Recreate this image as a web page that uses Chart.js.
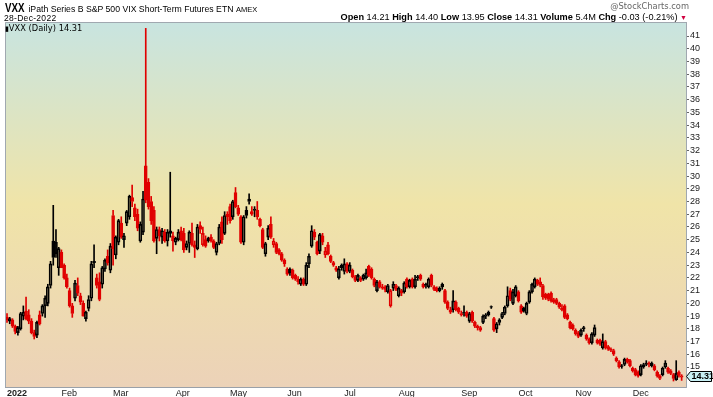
<!DOCTYPE html>
<html>
<head>
<meta charset="utf-8">
<script src="https://cdn.jsdelivr.net/npm/chart.js@4.4.1/dist/chart.umd.min.js"></script>
<style>
  body { margin: 0; background: #fff; font-family: "Liberation Sans", Arial, sans-serif; }
  #wrap { position: relative; width: 713px; height: 397px; overflow: hidden; }
  #c { position: absolute; left: 0; top: 0; }
  .t { position: absolute; white-space: nowrap; color: #000; line-height: 1; }
  .vxx { display: inline-block; transform: scaleX(0.78); transform-origin: left; font-size: 12.5px; font-weight: bold; margin-right: -4px; }
</style>
</head>
<body>
<div id="wrap">
  <canvas id="c" width="713" height="397"></canvas>
  <div class="t" style="left:5px;top:2px;font-size:8.7px;"><span class="vxx">VXX</span> iPath Series B S&amp;P 500 VIX Short-Term Futures ETN <span style="font-size:7.5px">AMEX</span></div>
  <div class="t" style="right:24px;top:2px;font-size:8.3px;color:#666;font-family:'DejaVu Sans',sans-serif;">@StockCharts.com</div>
  <div class="t" style="left:4px;top:14px;font-size:8.5px;letter-spacing:0.3px;">28-Dec-2022</div>
  <div class="t" style="right:26px;top:13px;font-size:9.2px;"><b>Open</b> 14.21 <b>High</b> 14.40 <b>Low</b> 13.95 <b>Close</b> 14.31 <b>Volume</b> 5.4M <b>Chg</b> -0.03 (-0.21%) <span style="color:#d00040;font-size:7px">&#9660;</span></div>
  <div class="t" style="left:5px;top:24px;font-size:8.3px;font-family:'DejaVu Sans',sans-serif;"><span style="font-size:7px">&#9646;</span>VXX (Daily) 14.31</div>
</div>
<script>
// VXX daily candles, 2022
const monthNames = ['2022', 'Feb', 'Mar', 'Apr', 'May', 'Jun', 'Jul', 'Aug', 'Sep', 'Oct', 'Nov', 'Dec'];
const monthDays  = [20, 19, 23, 20, 21, 21, 20, 23, 21, 21, 21, 19];

const opens = [
  18.9,18.6,18.7,18.2,17.7,18.0,19.0,19.4,19.1,18.6,17.7,17.5,19.1,19.2,19.8,20.0,21.4,24.9,24.8,22.8,
  24.0,23.0,22.0,21.0,19.8,20.4,21.4,20.6,20.0,18.8,19.6,20.4,23.2,22.0,21.7,21.5,22.7,23.7,22.6,
  26.9,23.8,24.8,26.3,25.0,26.3,26.8,28.3,27.5,27.0,24.9,25.6,30.8,29.5,28.0,27.3,25.1,25.8,25.2,25.6,24.9,25.5,25.3,
  24.8,25.0,25.7,25.5,24.4,24.7,25.5,24.6,24.3,26.1,24.6,25.0,24.9,25.2,24.9,24.0,24.7,26.4,25.5,27.0,
  27.6,26.8,28.7,27.5,26.8,24.8,27.3,28.0,27.0,27.3,27.3,26.6,25.8,23.9,25.2,26.2,24.6,24.7,24.2,23.9,23.4,
  22.7,22.7,22.6,22.2,21.9,21.5,21.9,21.5,23.1,24.5,25.6,24.8,24.1,25.3,23.8,24.6,23.7,23.2,22.8,22.0,22.8,
  22.5,23.1,22.5,22.6,22.1,21.8,22.0,21.9,22.0,22.9,22.7,21.9,21.0,21.7,21.3,21.3,20.9,19.8,21.2,21.4,
  20.6,21.0,20.9,21.9,21.3,21.9,21.3,22.0,22.2,21.5,21.5,21.3,22.2,21.3,21.2,21.0,21.5,21.0,20.1,19.3,19.5,20.1,19.6,
  19.1,19.2,19.3,18.6,19.3,18.5,18.2,18.1,18.5,19.0,19.1,19.7,18.8,18.0,18.5,18.9,19.2,19.8,21.0,20.0,20.6,
  20.9,19.8,19.6,19.2,20.1,20.9,21.3,21.8,21.7,21.4,20.7,20.7,20.8,20.3,20.3,20.0,19.5,19.8,19.1,18.5,18.3,
  17.9,17.7,17.5,18.1,17.5,17.2,16.9,17.5,17.1,17.1,16.5,17.0,16.6,16.4,16.3,15.7,15.4,15.1,15.2,15.6,15.5,
  14.9,14.8,14.6,14.4,15.0,15.2,15.3,15.1,15.1,14.6,14.3,14.4,15.0,14.9,14.7,14.4,14.0,14.6,14.21
];
const highs = [
  19.2,18.9,18.8,18.3,18.2,19.3,19.8,20.5,19.5,18.8,17.9,18.6,19.4,19.9,20.6,21.5,23.3,27.7,25.8,24.4,
  24.2,23.1,22.3,21.2,20.0,21.8,22.0,20.8,20.2,19.4,20.6,23.3,24.6,22.3,22.4,22.9,23.5,24.2,24.7,
  27.3,25.3,26.6,26.8,25.5,27.3,28.5,29.3,27.8,27.4,26.4,28.8,41.6,29.8,28.4,27.6,26.0,26.0,25.9,25.8,25.8,30.3,25.6,
  25.2,25.8,26.0,25.9,24.9,25.7,26.3,24.9,26.2,26.4,26.0,25.3,25.2,25.4,25.0,24.8,26.2,26.8,27.2,27.2,
  27.8,28.1,29.1,27.7,26.9,26.9,27.6,28.6,27.6,27.6,28.0,26.7,25.9,24.8,26.1,26.8,25.1,24.8,24.3,24.0,23.5,
  22.8,22.8,22.7,22.3,22.1,22.0,22.0,23.2,23.9,26.1,25.8,24.9,25.5,25.5,24.4,24.8,23.8,23.3,22.9,22.9,23.1,
  23.5,23.2,23.2,22.7,22.2,22.3,22.1,22.3,22.7,23.0,22.8,22.0,21.8,21.8,21.5,21.4,21.5,21.1,21.7,21.5,
  21.3,21.1,21.7,22.0,21.9,22.0,22.2,22.2,22.3,21.6,21.6,22.0,22.3,21.4,21.3,21.3,21.6,21.1,20.2,19.7,21.0,20.2,19.7,
  19.4,19.8,19.4,19.3,19.4,18.6,18.3,18.2,19.1,19.2,19.4,19.8,18.9,18.5,18.8,19.3,19.8,21.3,21.2,21.1,21.4,
  21.0,19.9,19.7,20.1,21.0,21.6,22.0,21.9,22.0,21.5,20.8,20.8,20.9,20.4,20.4,20.1,19.9,19.9,19.2,18.6,18.4,
  18.0,17.8,18.0,18.2,17.6,17.3,17.7,18.3,17.2,17.2,17.6,17.1,16.7,16.5,16.4,15.8,15.5,15.2,15.7,15.7,15.6,
  15.0,14.9,14.7,15.2,15.3,15.5,15.4,15.4,15.2,14.7,14.4,15.0,15.5,15.0,14.8,14.5,15.5,14.7,14.40
];
const lows = [
  18.5,18.4,18.1,17.6,17.5,17.9,18.7,18.7,18.4,17.6,17.2,17.3,18.3,19.0,18.9,19.8,21.2,23.0,23.6,22.2,
  22.8,21.9,21.2,19.7,18.9,20.2,20.6,19.9,19.1,18.6,19.4,20.2,22.8,21.2,20.2,21.2,22.5,23.0,22.4,
  23.0,23.5,24.6,25.1,24.4,26.1,26.6,27.6,26.5,25.7,24.8,25.4,27.9,27.4,26.2,24.8,23.9,24.9,24.7,24.8,24.5,25.2,24.1,
  24.6,24.9,24.9,24.0,24.2,24.0,24.5,23.6,24.2,25.5,24.5,24.4,24.8,24.8,24.3,23.8,24.6,24.7,25.4,26.2,
  26.3,26.6,27.5,26.9,24.7,24.6,26.7,27.8,26.9,26.8,26.6,26.0,24.3,23.7,25.0,25.1,24.4,23.9,23.8,23.3,22.9,
  22.2,22.2,21.9,21.8,21.5,21.4,21.4,21.4,22.8,24.4,25.0,23.8,23.9,24.6,23.6,23.8,23.2,22.9,22.5,21.9,22.6,
  22.3,22.4,22.4,22.0,21.7,21.7,21.7,21.8,21.9,22.1,21.9,21.3,20.9,21.2,21.1,20.9,20.8,19.7,21.0,21.0,
  20.5,20.6,20.8,21.2,21.2,21.2,21.2,21.8,21.8,21.2,21.2,21.2,21.3,21.0,20.9,20.9,21.1,20.0,19.5,19.2,19.3,19.4,19.2,
  19.0,19.0,18.9,18.5,18.5,18.1,17.9,17.8,18.4,18.8,19.0,19.6,17.8,17.7,18.3,18.8,19.1,19.7,20.2,19.9,20.5,
  20.1,19.2,19.3,19.1,20.0,20.8,21.2,21.4,21.3,20.3,20.3,20.2,20.1,20.0,19.9,19.6,19.4,18.8,18.7,18.0,17.9,
  17.5,17.3,17.4,17.8,17.1,16.8,16.8,17.4,16.8,16.7,16.4,16.4,16.3,16.2,15.9,15.4,14.9,14.9,15.1,15.3,15.0,
  14.6,14.3,14.2,14.3,14.9,15.1,15.0,15.0,14.7,14.2,14.0,14.3,14.9,14.5,14.4,13.9,13.95,14.2,13.95
];
const closes = [
  18.7,18.8,18.2,17.8,18.1,19.2,19.3,18.8,18.6,17.7,17.4,18.5,18.4,19.8,20.4,21.3,23.1,23.6,23.9,24.3,
  22.8,22.0,21.3,19.8,19.2,21.6,20.8,20.1,19.0,19.3,20.3,23.1,23.3,21.4,20.3,22.8,23.4,23.2,24.5,
  24.3,25.2,26.5,25.2,25.3,27.2,28.4,28.0,26.8,25.9,26.2,28.2,28.1,27.6,26.5,24.9,25.8,25.3,25.7,24.9,25.6,25.7,24.9,
  25.1,25.6,25.0,24.2,24.7,25.6,24.6,24.4,26.0,25.8,25.5,24.5,25.1,24.9,24.4,24.7,26.0,25.0,26.9,26.8,
  26.5,28.0,27.6,27.0,24.8,26.8,26.9,28.2,27.2,27.4,26.8,26.1,24.4,24.7,25.9,25.2,24.9,24.0,23.9,23.4,23.1,
  22.3,22.4,22.0,21.9,21.7,21.9,21.5,23.0,23.7,25.7,25.2,23.9,25.4,24.8,24.1,23.9,23.3,23.0,22.6,22.7,23.0,
  23.1,22.5,23.0,22.1,21.8,22.2,21.8,22.2,22.4,22.2,22.0,21.4,21.7,21.3,21.2,21.1,21.4,21.0,21.5,21.1,
  21.2,20.8,21.6,21.3,21.8,21.3,21.9,22.1,21.9,21.3,21.4,21.9,21.4,21.1,21.0,21.2,21.3,20.1,19.6,19.5,20.2,19.5,19.3,
  19.2,19.3,19.0,19.2,18.6,18.2,18.1,17.9,19.0,19.1,19.3,19.75,17.9,18.4,18.7,19.2,19.7,20.6,20.3,20.9,21.3,
  20.2,19.3,19.4,20.0,20.9,21.5,21.9,21.5,21.4,20.5,20.4,20.3,20.2,20.1,20.0,19.7,19.6,18.9,18.8,18.1,18.0,
  17.6,17.4,17.9,18.0,17.2,16.9,17.6,18.1,16.9,16.8,17.0,16.5,16.4,16.3,16.0,15.5,15.0,15.05,15.6,15.4,15.1,
  14.7,14.4,14.3,15.1,15.2,15.3,15.2,15.3,14.8,14.3,14.1,14.9,15.3,14.6,14.5,14.1,14.5,14.34,14.31
];
const yTicks = [15,16,17,18,19,20,21,22,23,24,25,26,27,28,29,30,31,32,33,34,35,36,37,38,39,40,41];
const lastClose = 14.31;

const RED = '#e00000', BLACK = '#000000';
const idx = closes.map((_, i) => i);
// stockcharts style: colour from previous close, hollow when close > open
const col  = idx.map(i => (i === 0 ? closes[0] >= opens[0] : closes[i] >= closes[i - 1]) ? BLACK : RED);
const fill = idx.map(i => closes[i] > opens[i] ? 'rgba(0,0,0,0)' : col[i]);

const monthStart = [];
let acc = 0;
monthDays.forEach(d => { monthStart.push(acc); acc += d; });

const bgPlugin = {
  id: 'bg',
  beforeDraw(chart) {
    const { ctx, chartArea: a } = chart;
    const g = ctx.createLinearGradient(0, a.top, 0, a.bottom);
    g.addColorStop(0, '#c8e4e0');
    g.addColorStop(0.5, '#f0e4a8');
    g.addColorStop(1, '#ecd2b8');
    ctx.save();
    ctx.fillStyle = g;
    ctx.fillRect(a.left, a.top, a.right - a.left, a.bottom - a.top);
    ctx.restore();
  },
  afterDraw(chart) {
    const { ctx, chartArea: a } = chart;
    ctx.save();
    ctx.strokeStyle = '#a0a8b0';
    ctx.lineWidth = 1;
    ctx.beginPath();
    ctx.moveTo(a.left + 0.5, a.bottom);
    ctx.lineTo(a.left + 0.5, a.top + 0.5);
    ctx.lineTo(a.right, a.top + 0.5);
    ctx.stroke();
    // last price tag
    const y = Math.round(chart.scales.y.getPixelForValue(lastClose)) + 0.5;
    const x0 = a.right + 0.5, x1 = 711.5;
    ctx.beginPath();
    ctx.moveTo(x0, y);
    ctx.lineTo(x0 + 4, y - 5);
    ctx.lineTo(x1, y - 5);
    ctx.lineTo(x1, y + 5);
    ctx.lineTo(x0 + 4, y + 5);
    ctx.closePath();
    ctx.fillStyle = '#c8f0f4';
    ctx.fill();
    ctx.strokeStyle = '#000';
    ctx.stroke();
    ctx.fillStyle = '#000';
    ctx.font = 'bold 9px "Liberation Sans", Arial, sans-serif';
    ctx.textBaseline = 'middle';
    ctx.fillText(lastClose.toFixed(2), x0 + 5, y + 0.5);
    ctx.restore();
  }
};

new Chart(document.getElementById('c'), {
  type: 'bar',
  data: {
    datasets: [
      {
        label: 'upper wick',
        data: idx.map(i => ({ x: i, y: [Math.max(opens[i], closes[i]), highs[i]] })),
        backgroundColor: col,
        borderWidth: 0,
        barThickness: 1,
        grouped: false,
        order: 2
      },
      {
        label: 'lower wick',
        data: idx.map(i => ({ x: i, y: [lows[i], Math.min(opens[i], closes[i])] })),
        backgroundColor: col,
        borderWidth: 0,
        barThickness: 1,
        grouped: false,
        order: 2
      },
      {
        label: 'body',
        data: idx.map(i => ({ x: i, y: [opens[i], closes[i]] })),
        backgroundColor: fill,
        borderColor: col,
        borderWidth: 1,
        borderSkipped: false,
        barThickness: 3,
        grouped: false,
        order: 1
      }
    ]
  },
  options: {
    responsive: false,
    animation: false,
    devicePixelRatio: 1,
    layout: { padding: { left: 5, top: 22, right: 0, bottom: 0 } },
    plugins: { legend: { display: false }, tooltip: { enabled: false } },
    scales: {
      x: {
        type: 'linear',
        offset: false,
        min: -0.74,
        max: 249.6,
        afterFit: s => { s.height = 10; s.paddingLeft = 0; s.paddingRight = 0; },
        afterBuildTicks: s => { s.ticks = monthStart.map(v => ({ value: v })); },
        grid: { display: false, drawTicks: false, offset: false },
        border: { display: true, color: '#9aa0a8', dash: [1, 1] },
        ticks: {
          autoSkip: false,
          maxRotation: 0,
          align: 'start',
          padding: 1,
          color: '#222',
          font: ctx => ({ size: 9, family: '"Liberation Sans", Arial, sans-serif', weight: ctx.index === 0 ? 'bold' : 'normal' }),
          callback: v => monthNames[monthStart.indexOf(v)]
        }
      },
      y: {
        type: 'linear',
        position: 'right',
        min: 13.43,
        max: 42.1,
        afterFit: s => { s.width = 27; },
        afterBuildTicks: s => { s.ticks = yTicks.map(v => ({ value: v })); },
        grid: { drawOnChartArea: false, drawTicks: true, tickLength: 3, color: '#666' },
        border: { display: true, color: '#a0a8b0' },
        ticks: {
          padding: 1,
          color: '#222',
          font: { size: 9, family: '"Liberation Sans", Arial, sans-serif' }
        }
      }
    }
  },
  plugins: [bgPlugin]
});
</script>
</body>
</html>
